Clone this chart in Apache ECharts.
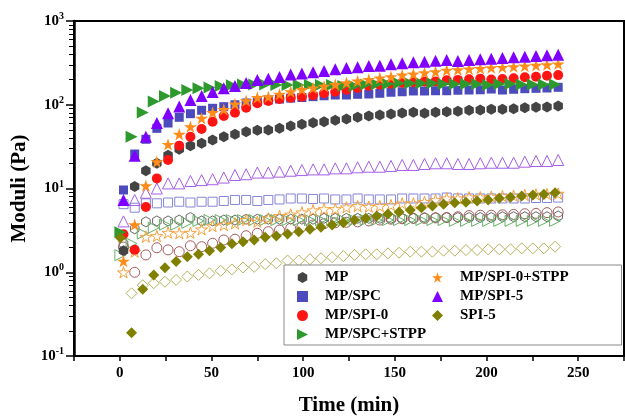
<!DOCTYPE html>
<html>
<head>
<meta charset="utf-8">
<script src="https://cdn.jsdelivr.net/npm/echarts@6/dist/echarts.min.js"></script>
<style>html,body{margin:0;padding:0;background:#fff}#main{width:625px;height:416px}</style>
</head>
<body>
<div id="main"></div>
<script>
// sampling times (min)
var timesA = [2, 8.1, 14.2, 20.2, 26.3, 32.4, 38.5, 44.6, 50.6, 56.7, 62.8, 68.9, 75, 81, 87.1, 93.2, 99.3, 105.4, 111.4, 117.5,
  123.6, 129.7, 135.8, 141.8, 147.9, 154, 160.1, 166.2, 172.2, 178.3, 184.4, 190.5, 196.6, 202.6, 208.7, 214.8, 220.9, 227, 233, 239.1];
var timesB = [0.3, 6.4, 12.5, 18.5, 24.6, 30.7, 36.8, 42.9, 48.9, 55, 61.1, 67.2, 73.3, 79.3, 85.4, 91.5, 97.6, 103.7, 109.7, 115.8,
  121.9, 128, 134.1, 140.1, 146.2, 152.3, 158.4, 164.5, 170.5, 176.6, 182.7, 188.8, 194.9, 200.9, 207, 213.1, 219.2, 225.3, 231.3, 237.4];

var names = ['MP', 'MP/SPC', 'MP/SPI-0', 'MP/SPC+STPP', 'MP/SPI-0+STPP', 'MP/SPI-5', 'SPI-5'];
var yTicks = [0.1, 1, 10, 100, 1000];
var xLabels = [0, 50, 100, 150, 200, 250];

// minor ticks of the log axis: 2..9 within every decade
var yMinor = [];
yTicks.slice(0, -1).forEach(function (d) {
  for (var k = 2; k <= 9; k++) yMinor.push(+(d * k).toPrecision(3));
});

// storage modulus (filled)
var mpG1 = [1.8, 10.6, 16.3, 20, 25, 29.4, 32.4, 34.7, 37.9, 41.5, 44.3, 47.6, 49.5, 50, 52.3, 55.7, 58.4, 61, 62.8, 65.2,
  67.6, 70.8, 73.4, 75.5, 77.6, 79.7, 81.3, 79.1, 81.3, 82.6, 83.5, 85.9, 86.5, 88.3, 88.3, 89.8, 92.2, 93.3, 94, 96.6];
var spcG1 = [9.6, 25.8, 38.7, 52.3, 60.5, 70.8, 78.2, 85.9, 90.7, 94.8, 100, 105, 109, 114, 117, 120, 122, 125, 128, 130.7,
  130.7, 133.3, 134.4, 137, 141, 143, 146, 146, 147, 147, 149, 150, 151, 154, 150, 153, 155.5, 157, 158.5, 161.5];
var spi0G1 = [2.84, 1.85, 6.0, 13.2, 21.9, 32.5, 41.5, 51.3, 62.8, 73.4, 80.4, 92.2, 104, 111, 117, 121, 124.7, 130, 137, 143,
  151, 159, 168, 173, 178, 183, 186, 189, 190, 196, 198, 201, 205, 200, 203, 207, 213, 216, 222, 226];
var spcStppG1 = [3.0, 41.6, 81, 109, 127, 139, 150, 157, 161, 167, 171, 174, 175, 175, 172, 172, 172, 172, 172, 172,
  168, 168, 175, 176, 177, 180, 180, 180, 180, 177, 177, 177, 177, 172, 177, 177, 175, 175, 175, 175];
var spi0StppG1 = [1.36, 3.7, 10.8, 20.9, 33.7, 44.4, 54.7, 69, 81, 88, 102, 112, 122, 125, 134, 143, 152, 159, 167, 175,
  183, 192, 201, 209, 216, 227, 233, 241, 248, 258, 262, 267, 272, 277, 280, 285, 290, 296, 301, 307];
var spi5MpG1 = [7.3, 24.6, 41.6, 60.5, 79, 95, 114, 127, 142, 157, 168, 182, 198, 205, 214, 229, 236, 244, 253, 265,
  275, 280, 290, 293, 304, 313, 321, 327, 336, 342, 333, 342, 349, 355, 361, 369, 375, 382, 390, 396];
var spi5G1 = [2.59, 0.19, 0.625, 0.93, 1.13, 1.34, 1.53, 1.64, 1.81, 1.98, 2.19, 2.32, 2.43, 2.61, 2.71, 2.86, 3.05, 3.26, 3.44, 3.67,
  3.91, 4.21, 4.41, 4.70, 4.96, 5.24, 5.54, 5.90, 6.18, 6.5, 6.75, 6.84, 7.09, 7.29, 7.64, 7.86, 8.13, 8.36, 8.52, 8.91];

// loss modulus (hollow)
var mpG2 = [2.2, 3.3, 4.0, 4.1, 4.1, 4.2, 4.5, 4.1, 4.1, 4.2, 4.2, 4.3, 4.3, 4.3, 4.3, 4.3, 4.3, 4.3, 4.4, 4.4,
  4.4, 4.4, 4.4, 4.4, 4.4, 4.4, 4.4, 4.5, 4.5, 4.5, 4.5, 4.5, 4.5, 4.5, 4.6, 4.6, 4.6, 4.6, 4.6, 4.7];
var spcG2 = [6.5, 5.9, 6.65, 6.65, 6.8, 6.95, 6.8, 6.95, 6.95, 7.1, 7.3, 7.3, 7.1, 7.3, 7.4, 7.6, 7.6, 7.5, 7.6, 7.4,
  7.4, 7.6, 7.4, 7.4, 7.4, 7.6, 7.6, 7.6, 7.6, 7.8, 7.6, 7.6, 7.6, 7.6, 7.6, 7.6, 7.6, 7.7, 7.7, 7.8];
var spi0G2 = [2.0, 1.0, 1.61, 1.96, 1.85, 1.76, 2.07, 2.02, 2.22, 2.43, 2.48, 2.73, 2.92, 3.05, 3.19, 3.35, 3.5, 3.67, 3.8, 3.9,
  3.95, 4.0, 4.1, 4.2, 4.3, 4.35, 4.4, 4.4, 4.45, 4.5, 4.6, 4.75, 4.8, 4.8, 4.85, 4.9, 5.0, 5.05, 5.15, 5.25];
var spcStppG2 = [1.6, 2.2, 2.9, 3.4, 3.7, 3.7, 3.9, 4.1, 4.2, 4.2, 4.2, 4.2, 4.2, 4.2, 4.2, 4.2, 4.2, 4.2, 4.2, 4.2,
  4.2, 4.2, 4.2, 4.2, 4.2, 4.2, 4.2, 4.2, 4.2, 4.2, 4.1, 4.1, 4.1, 4.1, 4.1, 4.1, 4.1, 4.1, 4.1, 4.1];
var spi0StppG2 = [1.0, 1.76, 2.66, 2.71, 2.97, 2.92, 2.97, 3.26, 3.56, 3.67, 3.84, 4.21, 4.02, 4.41, 4.70, 4.9, 5.2, 5.5, 5.69, 5.69,
  5.97, 6.18, 6.07, 6.18, 6.35, 6.65, 6.65, 6.95, 7.29, 7.64, 7.64, 7.86, 7.86, 8.0, 8.13, 8.2, 8.36, 8.5, 8.6, 8.7];
var spi5MpG2 = [4.05, 7.3, 8.9, 10, 11.5, 11.5, 12.3, 12.6, 12.9, 13.5, 14.5, 14.8, 15.5, 15.5, 15.9, 16.3, 16.6, 16.9, 16.9, 17.4,
  17.4, 17.9, 18.2, 18.2, 18.6, 19.1, 19.1, 19.6, 20.0, 20.0, 19.6, 19.6, 20.0, 20.3, 20.3, 20.3, 20.9, 21.3, 21.3, 21.9];
var spi5G2 = [null, 0.56, 0.70, 0.74, 0.77, 0.81, 0.89, 0.93, 0.97, 1.04, 1.08, 1.14, 1.16, 1.25, 1.28, 1.38, 1.38, 1.43, 1.47, 1.51,
  1.56, 1.61, 1.64, 1.64, 1.68, 1.71, 1.76, 1.76, 1.76, 1.81, 1.81, 1.84, 1.84, 1.88, 1.88, 1.88, 1.93, 1.93, 1.93, 2.02];

var serif = '"Liberation Serif", "Times New Roman", serif';
var STAR = 'path://M50,0 L61,35 L98,35 L68,57 L79,91 L50,70 L21,91 L32,57 L2,35 L39,35 Z';
var HEX = 'path://M50,0 L93,25 L93,75 L50,100 L7,75 L7,25 Z';
var RIGHT_TRI = 'path://M0,0 L100,50 L0,100 Z';

function pairs(times, vals) {
  var out = [];
  vals.forEach(function (v, i) { if (v != null) out.push([times[i], v]); });
  return out;
}

function mk(name, times, vals, symbol, size, color, hollow, rotate) {
  return {
    name: name,
    type: 'scatter',
    yAxisIndex: 0,
    data: pairs(times, vals),
    symbol: symbol,
    symbolSize: size,
    symbolRotate: rotate || 0,
    symbolKeepAspect: true,
    itemStyle: hollow
      ? { color: 'rgba(0,0,0,0)', borderColor: color, borderWidth: 1, opacity: 1 }
      : { color: color, borderWidth: 0, opacity: 1 },
    emphasis: { disabled: true }
  };
}

var series = [
  mk("MP G''", timesA, mpG2, HEX, 10, '#666666', true),
  mk("MP/SPC G''", timesA, spcG2, 'rect', 9, '#8585d6', true),
  mk("MP/SPI-0 G''", timesA, spi0G2, 'circle', 10, '#a65b5b', true),
  mk("MP/SPC+STPP G''", timesB, spcStppG2, 'triangle', 11, '#67b067', true, -90),
  mk("MP/SPI-0+STPP G''", timesA, spi0StppG2, STAR, 12, '#f5a03a', true),
  mk("MP/SPI-5 G''", timesA, spi5MpG2, 'triangle', 11, '#a45fe8', true),
  mk("SPI-5 G''", timesB, spi5G2, 'diamond', 11, '#b3b35c', true),
  mk(names[0], timesA, mpG1, HEX, 11, '#444444', false),
  mk(names[1], timesA, spcG1, 'rect', 9, '#4b4bbd', false),
  mk(names[2], timesA, spi0G1, 'circle', 10, '#ff1414', false),
  mk(names[3], timesB, spcStppG1, 'triangle', 12, '#2e9a2e', false, -90),
  mk(names[4], timesA, spi0StppG1, STAR, 13, '#ff8c1a', false),
  mk(names[5], timesA, spi5MpG1, 'triangle', 12, '#8000ff', false),
  mk(names[6], timesB, spi5G1, 'diamond', 11, '#808000', false)
];

var chart = echarts.init(document.getElementById('main'), null, { renderer: 'canvas' });

var option = {
  backgroundColor: '#ffffff',
  animation: false,
  grid: {
    left: 74, right: 1, top: 21, bottom: 60,
    outerBoundsMode: 'none',
    containLabel: false,
    show: true, borderColor: '#000', borderWidth: 2, backgroundColor: 'transparent'
  },
  legend: {
    data: names.map(function (n) {
      return n === 'MP/SPC+STPP' ? { name: n, icon: RIGHT_TRI } : { name: n };
    }),
    orient: 'vertical',
    left: 284,
    top: 265,
    height: 75,
    padding: [5, 53, 3, 13],
    itemGap: 4,
    itemWidth: 11,
    itemHeight: 11,
    borderColor: '#888',
    borderWidth: 1,
    backgroundColor: '#fff',
    textStyle: {
      fontFamily: serif, fontWeight: 'bold', fontSize: 15, lineHeight: 15, color: '#000',
      width: 103, padding: [0, 0, 0, 12]
    }
  },
  xAxis: {
    type: 'value',
    min: -25,
    max: 275,
    interval: 25,
    name: 'Time (min)',
    nameLocation: 'middle',
    nameGap: 39,
    nameTextStyle: { fontFamily: serif, fontWeight: 'bold', fontSize: 21, color: '#000' },
    axisLine: { onZero: false, lineStyle: { color: '#000', width: 2 } },
    axisTick: { inside: false, length: 5, lineStyle: { color: '#000', width: 1.5 } },
    splitLine: { show: false },
    axisLabel: {
      margin: 10,
      fontFamily: serif, fontWeight: 'bold', fontSize: 15, color: '#000',
      formatter: function (v) { return xLabels.indexOf(v) >= 0 ? String(v) : ''; }
    }
  },
  yAxis: [{
    type: 'log',
    logBase: 10,
    min: yTicks[0],
    max: yTicks[yTicks.length - 1],
    name: 'Moduli (Pa)',
    nameLocation: 'middle',
    nameGap: 44,
    nameTextStyle: { fontFamily: serif, fontWeight: 'bold', fontSize: 21, color: '#000' },
    axisLine: { onZero: false, lineStyle: { color: '#000', width: 2.5 } },
    axisTick: { inside: false, length: 8, customValues: yTicks, lineStyle: { color: '#000', width: 1.5 } },
    splitLine: { show: false },
    axisLabel: {
      margin: 10,
      customValues: yTicks,
      formatter: function (v) {
        var e = Math.round(Math.log(v) / Math.LN10);
        return '{b|10}{s|' + e + '}';
      },
      rich: {
        b: { fontFamily: serif, fontWeight: 'bold', fontSize: 15, color: '#000' },
        s: { fontFamily: serif, fontWeight: 'bold', fontSize: 10, color: '#000', padding: [0, 0, 9, 0] }
      }
    }
  }, {
    // second copy of the axis, only for the minor ticks
    type: 'log',
    logBase: 10,
    position: 'left',
    offset: 0,
    min: yTicks[0],
    max: yTicks[yTicks.length - 1],
    axisLine: { show: false, onZero: false },
    axisTick: { inside: false, length: 5, customValues: yMinor, lineStyle: { color: '#000', width: 1 } },
    axisLabel: { show: false },
    splitLine: { show: false }
  }],
  series: series
};

chart.setOption(option);
</script>
</body>
</html>
